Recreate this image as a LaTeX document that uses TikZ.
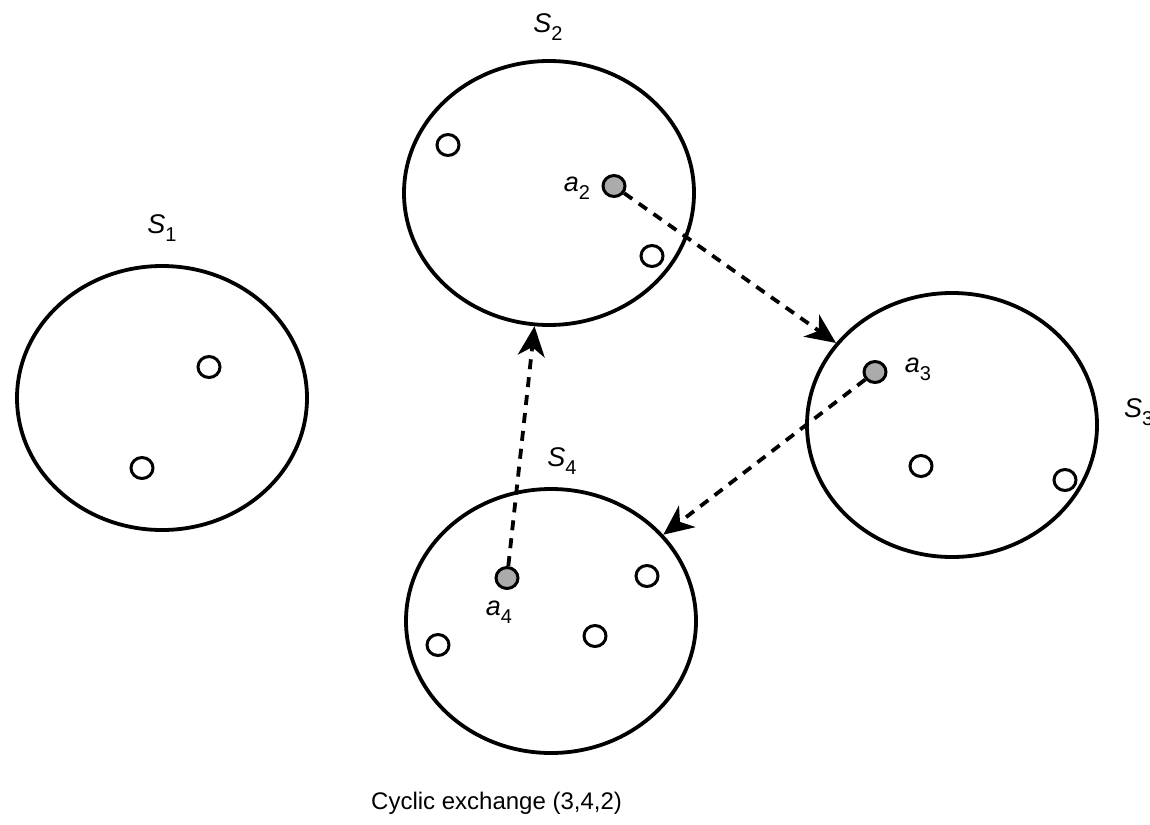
\documentclass[tikz,border=0pt]{standalone}
\usepackage{fontspec}
\setmainfont{Liberation Sans}
\usetikzlibrary{shapes.geometric,arrows.meta}
\newcommand\subname[2]{\textit{#1}\raisebox{-0.3em}{\fontsize{20}{22}\selectfont #2}}
\begin{document}
\begin{tikzpicture}[x=1pt,y=-1pt,
  set/.style={ellipse,draw,line width=3.8pt,minimum width=290pt,minimum height=264pt,inner sep=0pt},
  item/.style={ellipse,draw,line width=3pt,minimum width=22pt,minimum height=21pt,inner sep=0pt,fill=white},
  chosen/.style={item,fill=black!33},
  lab/.style={font=\fontsize{27}{30}\selectfont,inner sep=0pt},
  move/.style={line width=3.8pt,dash pattern=on 10pt off 8pt,
    -{Stealth[length=30pt,width=27pt,inset=9pt]}}
]
\useasboundingbox (0,0) rectangle (1150,824);

% the four sets
\node[set] (S1) at (162,398) {};
\node[set] (S2) at (549,193) {};
\node[set] (S3) at (952,425) {};
\node[set] (S4) at (551,621) {};

% set names
\node[lab] (n1) at (162,228) {\subname{S}{1}};
\node[lab] (n2) at (548,27) {\subname{S}{2}};
\node[lab,anchor=west] (n3) at (1124,412) {\subname{S}{3}};
\node[lab] (n4) at (562,461) {\subname{S}{4}};

% members of S1
\node[item] (p11) at (209,367) {};
\node[item] (p12) at (142,468) {};
% members of S2
\node[item] (p21) at (448,145) {};
\node[chosen] (a2) at (614,186) {};
\node[item] (p23) at (652,256) {};
% members of S3
\node[chosen] (a3) at (875,372) {};
\node[item] (p32) at (921,466) {};
\node[item] (p33) at (1065,480) {};
% members of S4
\node[chosen] (a4) at (507,578) {};
\node[item] (p42) at (647,576) {};
\node[item] (p43) at (595,636) {};
\node[item] (p44) at (438,645) {};

% element names
\node[lab] (l2) at (577,188) {\subname{a}{2}};
\node[lab] (l3) at (918,369) {\subname{a}{3}};
\node[lab] (l4) at (499,612) {\subname{a}{4}};

% the exchange cycle
\draw[move] (a2) -- (S3);
\draw[move] (a3) -- (S4);
\draw[move] (a4) -- (S2);

\node[anchor=west,font=\fontsize{24}{28}\selectfont,inner sep=0pt] (cap) at (371,803) {Cyclic exchange (3,4,2)};
\end{tikzpicture}
\end{document}
